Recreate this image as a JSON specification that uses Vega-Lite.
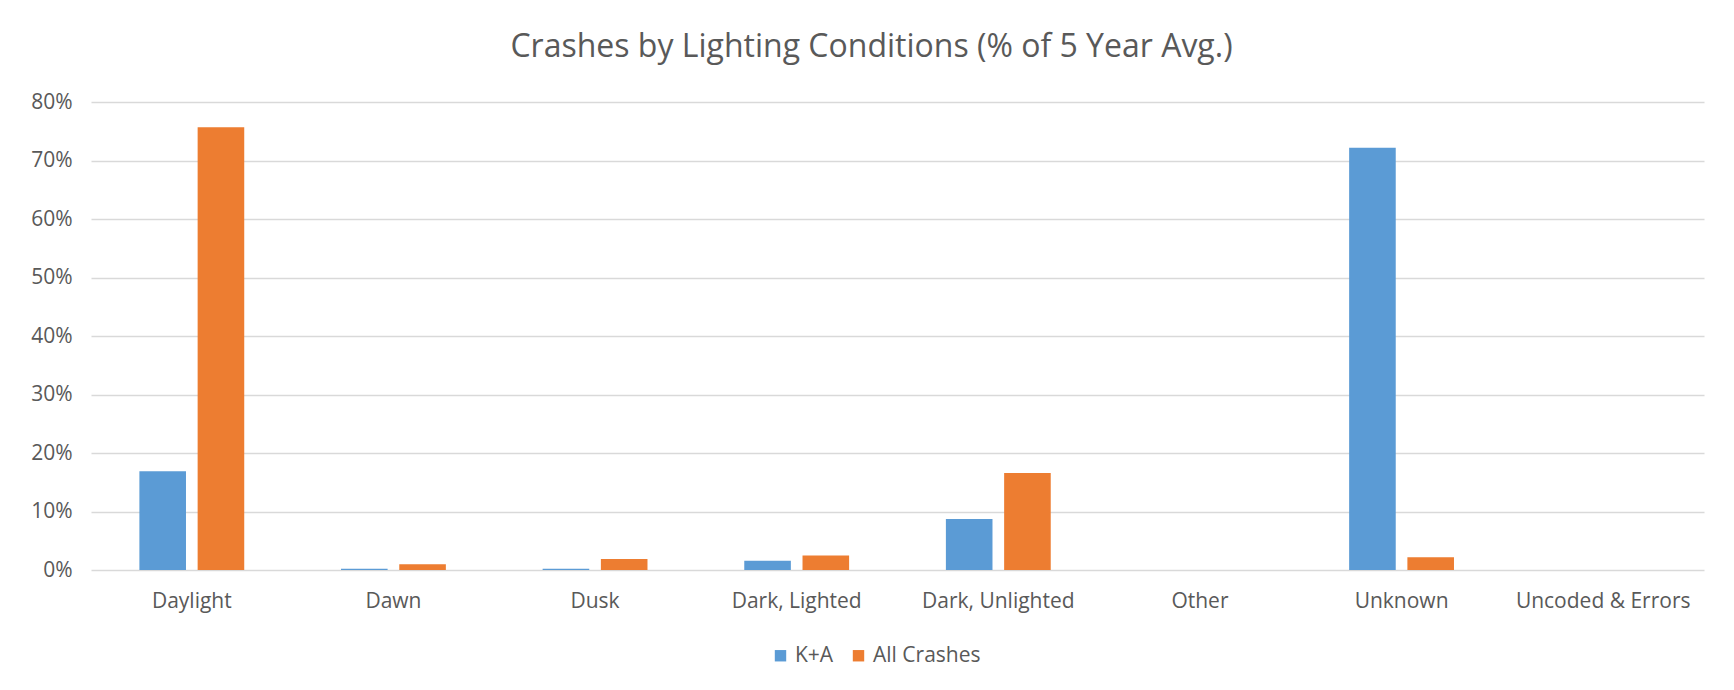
{
  "$schema": "https://vega.github.io/schema/vega-lite/v6.json",
  "width": 1613,
  "height": 468,
  "autosize": {"type": "none"},
  "padding": {"left": 91, "top": 102, "right": 30, "bottom": 120},
  "background": "white",
  "title": {
    "text": "Crashes by Lighting Conditions (% of 5 Year Avg.)",
    "anchor": "middle",
    "dx": -26,
    "offset": 27,
    "fontSize": 32,
    "font": "Open Sans",
    "fontWeight": "normal",
    "color": "#595959"
  },
  "data": {
    "values": [
      {"condition": "Daylight", "series": "K+A", "pct": 0.169},
      {"condition": "Daylight", "series": "All Crashes", "pct": 0.757},
      {"condition": "Dawn", "series": "K+A", "pct": 0.002},
      {"condition": "Dawn", "series": "All Crashes", "pct": 0.010},
      {"condition": "Dusk", "series": "K+A", "pct": 0.002},
      {"condition": "Dusk", "series": "All Crashes", "pct": 0.019},
      {"condition": "Dark, Lighted", "series": "K+A", "pct": 0.016},
      {"condition": "Dark, Lighted", "series": "All Crashes", "pct": 0.025},
      {"condition": "Dark, Unlighted", "series": "K+A", "pct": 0.087},
      {"condition": "Dark, Unlighted", "series": "All Crashes", "pct": 0.166},
      {"condition": "Other", "series": "K+A", "pct": 0},
      {"condition": "Other", "series": "All Crashes", "pct": 0},
      {"condition": "Unknown", "series": "K+A", "pct": 0.722},
      {"condition": "Unknown", "series": "All Crashes", "pct": 0.022},
      {"condition": "Uncoded & Errors", "series": "K+A", "pct": 0},
      {"condition": "Uncoded & Errors", "series": "All Crashes", "pct": 0}
    ]
  },
  "mark": {"type": "bar"},
  "encoding": {
    "x": {
      "field": "condition",
      "type": "nominal",
      "sort": ["Daylight", "Dawn", "Dusk", "Dark, Lighted", "Dark, Unlighted", "Other", "Unknown", "Uncoded & Errors"],
      "scale": {"paddingInner": 0.48, "paddingOuter": 0.24},
      "axis": {
        "title": null,
        "labelAngle": 0,
        "domain": false,
        "ticks": false,
        "labelPadding": 20,
        "labelFontSize": 21,
        "labelFont": "Open Sans",
        "labelColor": "#595959"
      }
    },
    "xOffset": {
      "field": "series",
      "type": "nominal",
      "sort": ["K+A", "All Crashes"],
      "scale": {"paddingInner": 0.2, "paddingOuter": 0}
    },
    "y": {
      "field": "pct",
      "type": "quantitative",
      "scale": {"domain": [0, 0.8], "nice": false},
      "axis": {
        "title": null,
        "format": ".0%",
        "values": [0, 0.1, 0.2, 0.3, 0.4, 0.5, 0.6, 0.7, 0.8],
        "domain": false,
        "ticks": false,
        "labelPadding": 19,
        "labelFontSize": 21,
        "labelFont": "Open Sans",
        "labelColor": "#595959",
        "gridColor": "#d9d9d9",
        "gridWidth": 1.3
      }
    },
    "color": {
      "field": "series",
      "type": "nominal",
      "sort": ["K+A", "All Crashes"],
      "scale": {"domain": ["K+A", "All Crashes"], "range": ["#5B9BD5", "#ED7D31"]},
      "legend": {
        "title": null,
        "orient": "none",
        "direction": "horizontal",
        "legendX": 679,
        "legendY": 543,
        "symbolType": "square",
        "symbolSize": 130,
        "symbolStrokeWidth": 0,
        "labelFontSize": 21,
        "labelFont": "Open Sans",
        "labelColor": "#595959",
        "columnPadding": 14,
        "labelOffset": 4
      }
    }
  },
  "config": {
    "view": {"stroke": null}
  }
}
